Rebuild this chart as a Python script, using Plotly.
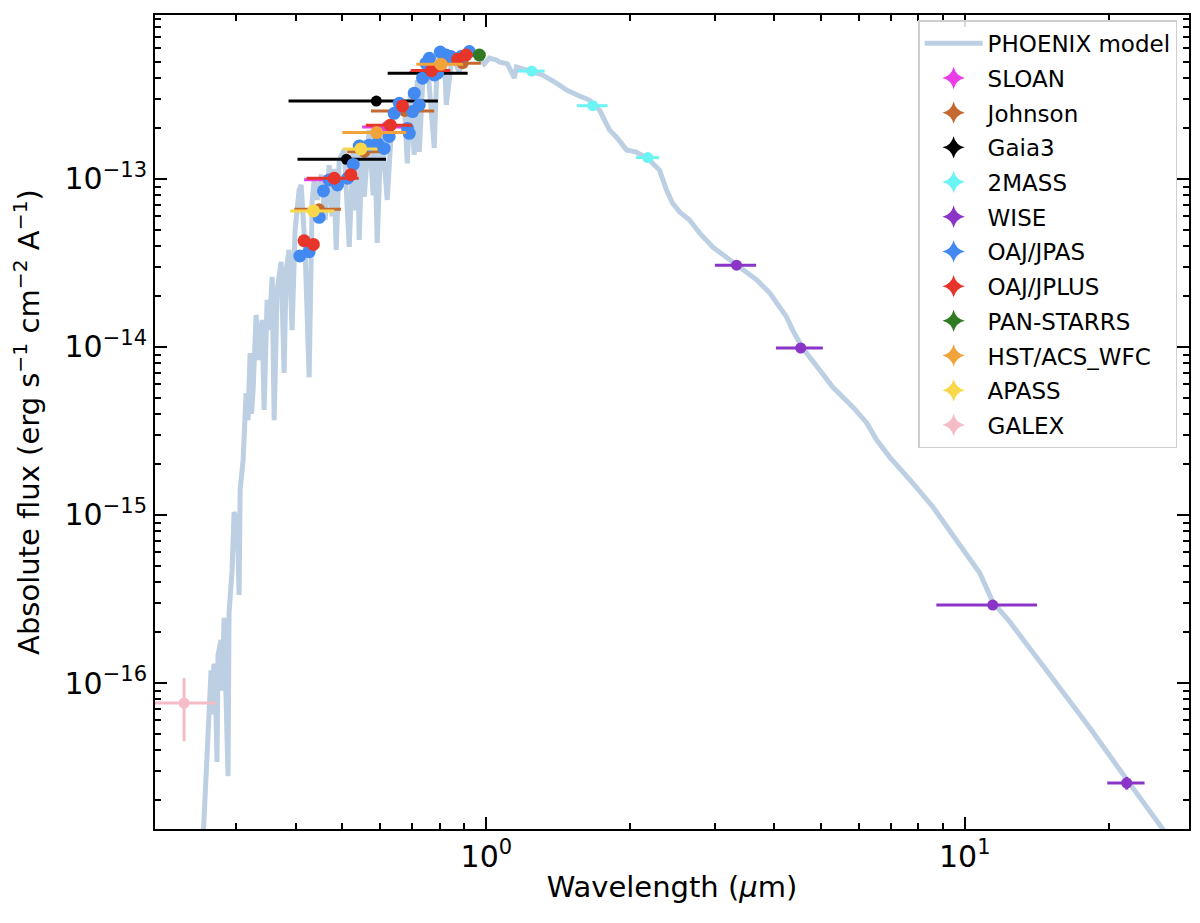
import plotly.graph_objects as go

# ---------------- PHOENIX model ----------------
model_wl = [0.2546, 0.2583, 0.2596, 0.2634, 0.2659, 0.2680, 0.2695, 0.2710, 0.2736, 0.2749, 0.2789, 0.2810,
            0.2830, 0.2885, 0.2899, 0.2942, 0.2970, 0.3014, 0.3043, 0.3058, 0.3102, 0.3117, 0.3147,
            0.3177, 0.3208, 0.3230, 0.3255, 0.3302, 0.3350, 0.3399, 0.3432, 0.3482, 0.3516, 0.3567,
            0.3602, 0.3654, 0.3725, 0.3779, 0.3816, 0.3871, 0.3927, 0.3984, 0.4062, 0.4102,
            0.4181, 0.4262, 0.4325, 0.4367, 0.4430, 0.4516, 0.4604, 0.4694, 0.4760, 0.4800, 0.4855, 0.4926,
            0.5046, 0.5169, 0.5270, 0.5340, 0.5380, 0.5424, 0.5503, 0.5556, 0.5690, 0.5800, 0.5840, 0.5915, 0.6031, 0.6207,
            0.6358, 0.6577, 0.6737, 0.6835, 0.6934, 0.7069, 0.7172, 0.7242, 0.7383, 0.7527,
            0.7783, 0.7897, 0.8168, 0.8248, 0.8327, 0.8489, 0.8780, 0.8909, 0.9303, 0.9669,
            0.9904, 1.0146, 1.0494, 1.0646, 1.1064, 1.1444, 1.1555, 1.2418, 1.3095, 1.3877,
            1.4702, 1.5652, 1.6424, 1.7235, 1.7654, 1.8083, 1.8793, 1.9628, 2.0497, 2.1727,
            2.3010, 2.3801, 2.4496, 2.5338, 2.6589, 2.7901, 2.9707, 3.1777, 3.3505, 3.6723,
            3.9091, 4.2420, 4.3668, 4.5818, 4.9739, 5.2948, 5.8319, 6.2373, 6.5448, 6.9663,
            7.7853, 8.5708, 9.7614, 10.750, 11.444, 12.420, 15.058, 18.262, 21.827, 26.203,
            31.0]
model_flux = [8.84e-18, 2.31e-17, 3.16e-17, 6.03e-17, 1.19e-16, 6.5e-17, 1.30e-16, 1.23e-16, 3.39e-17, 1.47e-16, 1.80e-16, 9.0e-17,
              2.44e-16, 2.79e-17, 2.61e-16, 4.71e-16, 1.04e-15, 9.33e-16, 3.34e-16, 1.41e-15, 2.12e-15, 2.79e-15, 5.32e-15,
              3.67e-15, 9.20e-15, 4.0e-15, 5.55e-15, 1.55e-14, 8.37e-15, 1.45e-14, 4.22e-15, 1.91e-14, 1.26e-14, 2.61e-14,
              3.67e-15, 2.18e-14, 3.21e-14, 7.00e-15, 2.87e-14, 3.78e-14, 1.26e-14, 4.97e-14, 8.60e-14, 9.21e-14,
              3.78e-14, 6.60e-15, 7.50e-14, 9.86e-14, 7.50e-14, 1.06e-13, 5.70e-14, 1.21e-13, 6.0e-14, 1.15e-13, 3.78e-14, 1.30e-13,
              1.49e-13, 3.94e-14, 1.49e-13, 6.5e-14, 1.55e-13, 4.33e-14, 1.71e-13, 7.82e-14, 1.96e-13, 8.0e-14, 1.90e-13, 4.16e-14, 2.10e-13, 7.50e-14,
              2.40e-13, 2.57e-13, 2.95e-13, 1.24e-13, 3.16e-13, 1.39e-13, 3.88e-13, 1.45e-13, 4.46e-13, 4.97e-13,
              1.53e-13, 5.25e-13, 5.47e-13, 2.76e-13, 3.39e-13, 5.55e-13, 4.28e-13, 5.70e-13, 5.70e-13, 5.32e-13,
              4.84e-13, 5.25e-13, 5.11e-13, 4.97e-13, 4.84e-13, 3.99e-13, 4.64e-13, 4.40e-13, 4.16e-13, 3.78e-13,
              3.39e-13, 3.12e-13, 2.95e-13, 2.57e-13, 2.24e-13, 1.96e-13, 1.75e-13, 1.49e-13, 1.45e-13, 1.33e-13,
              1.13e-13, 8.60e-14, 7.20e-14, 6.37e-14, 5.70e-14, 4.77e-14, 3.94e-14, 3.43e-14, 3.08e-14, 2.51e-14,
              2.10e-14, 1.51e-14, 1.26e-14, 9.86e-15, 7.30e-15, 5.78e-15, 4.40e-15, 3.53e-15, 2.79e-15, 2.21e-15,
              1.55e-15, 1.12e-15, 6.63e-16, 4.52e-16, 3.03e-16, 2.31e-16, 1.12e-16, 5.40e-17, 2.65e-17, 1.30e-17,
              6.72e-18]

# ---------------- photometry (wavelength um, flux, errors) ----------------
sloan_wl = [0.468, 0.620, 0.760]
sloan_flux = [9.9e-14, 2.04e-13, 4.30e-13]
sloan_wl_err = [0.052, 0.070, 0.070]
sloan_flux_err = [2.0e-15, 4.0e-15, 8.0e-15]

johnson_wl = [0.447, 0.556, 0.676, 0.892]
johnson_flux = [6.6e-14, 1.45e-13, 2.54e-13, 4.89e-13]
johnson_wl_err = [0.050, 0.044, 0.102, 0.082]
johnson_flux_err = [1.5e-15, 3.0e-15, 5.0e-15, 1.0e-14]

gaia_wl = [0.510, 0.589, 0.768]
gaia_flux = [1.31e-13, 2.91e-13, 4.26e-13]
gaia_wl_err = [0.107, 0.203, 0.146]
gaia_flux_err = [2.0e-15, 3.0e-15, 5.0e-15]

tmass_wl = [1.244, 1.669, 2.175]
tmass_flux = [4.39e-13, 2.73e-13, 1.34e-13]
tmass_wl_err = [0.080, 0.123, 0.120]
tmass_flux_err = [8.0e-15, 5.0e-15, 2.5e-15]

wise_wl = [3.334, 4.54, 11.44, 21.8]
wise_flux = [3.07e-14, 9.86e-15, 2.91e-16, 2.54e-17]
wise_wl_err = [0.33, 0.51, 2.72, 1.95]
wise_flux_err = [6.0e-16, 2.0e-16, 6.0e-18, 2.2e-18]

jpas_wl = [0.4075, 0.4262, 0.4473, 0.4567, 0.4694, 0.4886, 0.5127, 0.5270, 0.5424, 0.5690,
           0.5925, 0.6116, 0.6265, 0.6418, 0.6577, 0.6843, 0.6901, 0.7011, 0.7069, 0.7242,
           0.7358, 0.7480, 0.7600, 0.7783, 0.7909, 0.8012, 0.8235, 0.8435, 0.8853, 0.9214]
jpas_flux = [3.48e-14, 3.69e-14, 5.91e-14, 8.49e-14, 9.86e-14, 9.21e-14, 1.01e-13, 1.22e-13, 1.57e-13, 1.59e-13,
             1.63e-13, 1.52e-13, 1.79e-13, 2.46e-13, 2.82e-13, 2.00e-13, 1.87e-13, 2.52e-13, 3.24e-13, 2.76e-13,
             3.98e-13, 4.89e-13, 5.23e-13, 4.16e-13, 4.26e-13, 5.70e-13, 5.47e-13, 5.35e-13, 5.35e-13, 5.73e-13]

jplus_wl = [0.416, 0.435, 0.481, 0.521, 0.630, 0.668, 0.768, 0.871, 0.907]
jplus_flux = [4.29e-14, 4.08e-14, 1.01e-13, 1.06e-13, 2.09e-13, 2.72e-13, 4.42e-13, 5.16e-13, 5.47e-13]
jplus_wl_err = [0.007, 0.007, 0.060, 0.007, 0.070, 0.007, 0.073, 0.007, 0.050]

panstarrs_wl = [0.967]
panstarrs_flux = [5.47e-13]

hst_wl = [0.590, 0.804]
hst_flux = [1.89e-13, 4.82e-13]
hst_wl_err = [0.090, 0.090]

apass_wl = [0.4352, 0.5467]
apass_flux = [6.45e-14, 1.51e-13]
apass_wl_err = [0.046, 0.045]

galex_wl = [0.2335]
galex_flux = [7.6e-17]
galex_wl_err = [0.039]
galex_flux_err = [3.1e-17]

MODEL_COLOR = "#bccfe3"

fig = go.Figure()

fig.add_trace(go.Scatter(
    x=model_wl, y=model_flux, mode="lines", name="PHOENIX model",
    line=dict(color=MODEL_COLOR, width=5), legendgroup="model"))


def add_phot(name, wl, flux, color, wl_err=None, flux_err=None, size=12):
    fig.add_trace(go.Scatter(
        x=wl, y=flux, mode="markers", name=name, showlegend=False,
        marker=dict(color=color, size=size, line=dict(width=0)),
        error_x=dict(type="data", array=wl_err if wl_err is not None else [0.0] * len(wl),
                     color=color, thickness=3, width=0, visible=True),
        error_y=dict(type="data", array=flux_err if flux_err is not None else [0.0] * len(wl),
                     color=color, thickness=3, width=0, visible=True),
        legendgroup=name))
    fig.add_trace(go.Scatter(
        x=[None], y=[None], mode="markers", name=name, legendgroup=name,
        marker=dict(color=color, size=16, symbol="star-diamond", line=dict(width=0))))


add_phot("SLOAN", sloan_wl, sloan_flux, "#e83de8", sloan_wl_err, sloan_flux_err)
add_phot("Johnson", johnson_wl, johnson_flux, "#c4692f", johnson_wl_err, johnson_flux_err)
add_phot("Gaia3", gaia_wl, gaia_flux, "#000000", gaia_wl_err, gaia_flux_err, size=11)
add_phot("2MASS", tmass_wl, tmass_flux, "#6cf4f4", tmass_wl_err, tmass_flux_err, size=11)
add_phot("WISE", wise_wl, wise_flux, "#8b34c8", wise_wl_err, wise_flux_err, size=11)
add_phot("OAJ/JPAS", jpas_wl, jpas_flux, "#4289f2", size=13)
add_phot("OAJ/JPLUS", jplus_wl, jplus_flux, "#e8352a", jplus_wl_err, size=13)
add_phot("PAN-STARRS", panstarrs_wl, panstarrs_flux, "#2f7a22", size=13)
add_phot("HST/ACS_WFC", hst_wl, hst_flux, "#f2a33a", hst_wl_err, size=13)
add_phot("APASS", apass_wl, apass_flux, "#f8d84a", apass_wl_err, size=13)
add_phot("GALEX", galex_wl, galex_flux, "#f4bcc6", galex_wl_err, galex_flux_err, size=11)

x_minor = [0.3, 0.4, 0.5, 0.6, 0.7, 0.8, 0.9, 2, 3, 4, 5, 6, 7, 8, 9, 20, 30]
y_minor = [k * 10.0 ** e for e in (-17, -16, -15, -14, -13) for k in range(2, 10)]

axis_common = dict(
    showline=True, linecolor="black", linewidth=2, mirror="allticks",
    ticks="inside", ticklen=12, tickwidth=2, tickcolor="black",
    showgrid=False, zeroline=False, automargin=False,
    tickfont=dict(family="DejaVu Sans", size=30, color="black"),
)

fig.update_xaxes(
    type="log", range=[-0.6925, 1.4686],
    tickmode="array", tickvals=[1, 10], ticktext=["10<sup>0</sup>", "10<sup>1</sup>"],
    minor=dict(ticks="inside", ticklen=6, tickwidth=1.5, tickcolor="black",
               tickmode="array", tickvals=x_minor, showgrid=False),
    title=dict(text="Wavelength (<i>μ</i>m)", font=dict(family="DejaVu Sans", size=29, color="black"),
               standoff=4),
    **axis_common)

fig.update_yaxes(
    type="log", range=[-16.869, -12.024],
    tickmode="array", tickvals=[1e-16, 1e-15, 1e-14, 1e-13],
    ticktext=["10<sup>\u221216</sup>", "10<sup>\u221215</sup>", "10<sup>\u221214</sup>", "10<sup>\u221213</sup>"],
    minor=dict(ticks="inside", ticklen=6, tickwidth=1.5, tickcolor="black",
               tickmode="array", tickvals=y_minor, showgrid=False),
    title=dict(text="Absolute flux (erg s<sup>\u22121</sup> cm<sup>\u22122</sup> A<sup>\u22121</sup>)",
               font=dict(family="DejaVu Sans", size=29, color="black"), standoff=16),
    **axis_common)

fig.update_layout(
    width=1200, height=923,
    margin=dict(l=155, r=11, t=15, b=94, autoexpand=False),
    plot_bgcolor="white", paper_bgcolor="white",
    font=dict(family="DejaVu Sans", color="black"),
    legend=dict(x=0.9885, y=0.9935, xanchor="right", yanchor="top",
                bgcolor="rgba(255,255,255,0.85)", bordercolor="#cfcfcf", borderwidth=1.5,
                font=dict(family="DejaVu Sans", size=23, color="black"),
                tracegroupgap=1.8, itemwidth=58),
)

fig.write_html("out.html", config={"displayModeBar": False})

# remove the default page margin so the figure sits at the window origin
with open("out.html", "r", encoding="utf-8") as fh:
    html = fh.read()
html = html.replace("<head>", "<head><style>html,body{margin:0;padding:0;overflow:hidden;}</style>", 1)
with open("out.html", "w", encoding="utf-8") as fh:
    fh.write(html)
